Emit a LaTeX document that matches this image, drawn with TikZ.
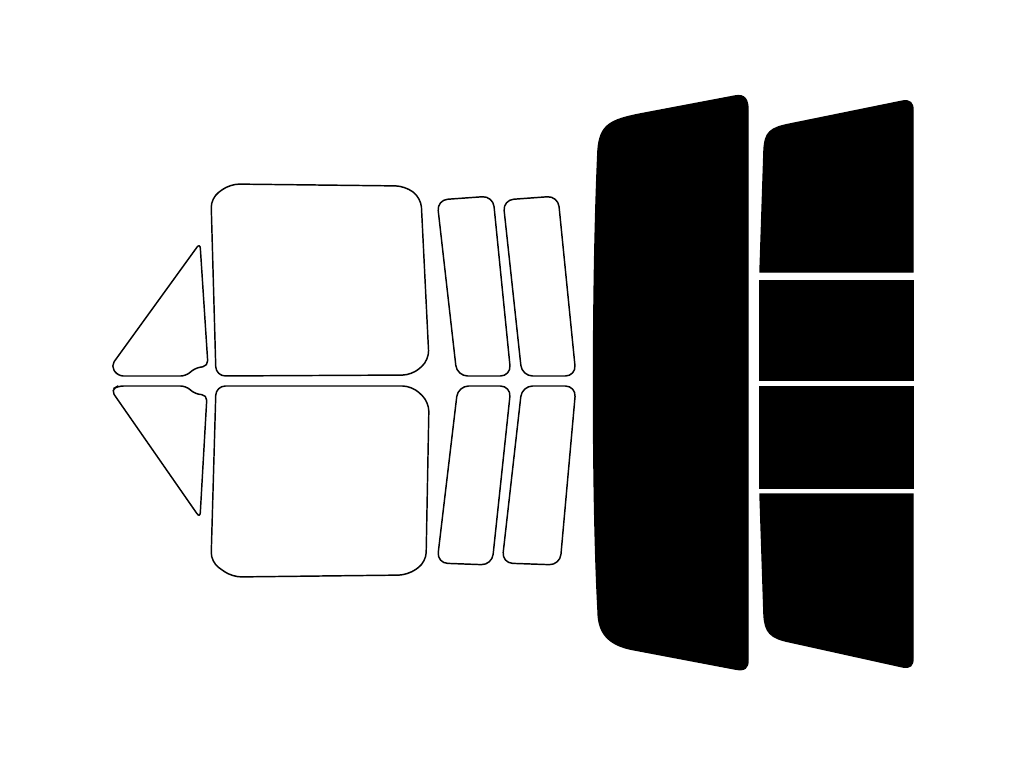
\documentclass[tikz,border=0pt]{standalone}
\usepackage{tikz}

\begin{document}
\begin{tikzpicture}[x=0.75pt, y=-0.75pt,
    glass/.style = {draw, line width=1.1pt, rounded corners=8pt, fill=white},
    tint/.style  = {draw, line width=1.1pt, fill=black}]
\useasboundingbox (0,0) rectangle (1024,768);
%%% quarter glass
\draw[glass, rounded corners=4pt] (200,243) -- (208,366) -- (195,368) -- (186,376) -- (118,376) -- (111,366) -- cycle;
\draw[glass, rounded corners=4pt] (111,390) -- (118,386) -- (186,386) -- (195,394) -- (207,395) -- (200,518) -- cycle;
%%% front door
\draw[glass, rounded corners=7pt] (216,376) -- (211,198) -- (230,184) -- (405,186) -- (421,198) -- (429,360) -- (412,375) -- cycle;
\draw[glass, rounded corners=7pt] (216,386) -- (412,386) -- (429,402) -- (426,562) -- (408,575) -- (232,577) -- (211,562) -- cycle;
%%% rear door
\draw[glass] (437,200) -- (493,196) -- (511,376) -- (457,376) -- cycle;
\draw[glass] (503,200) -- (558,196) -- (576,376) -- (522,376) -- cycle;
\draw[glass] (458,386) -- (511,386) -- (492,565) -- (437,563) -- cycle;
\draw[glass] (522,386) -- (576,386) -- (560,565) -- (502,563) -- cycle;
%%% back glass and rear panels
\draw[tint] (598,150) .. controls (600,125) and (610,120) .. (640,114)
    -- (735,96) .. controls (745,94) and (748,100) .. (748,110)
    -- (748,660) .. controls (748,668) and (745,671) .. (735,669)
    -- (635,650) .. controls (605,645) and (598,630) .. (598,610)
    .. controls (592,500) and (592,280) .. cycle;
\draw[tint] (760,272) -- (764,150) .. controls (765,132) and (770,128) .. (790,124)
    -- (903,101) .. controls (910,100) and (913,103) .. (913,110) -- (913,272) -- cycle;
\draw[tint] (760,281) rectangle (913,380);
\draw[tint] (760,387) rectangle (913,488);
\draw[tint] (760,494) -- (913,494) -- (913,658) .. controls (913,666) and (910,668) .. (903,667)
    -- (790,642) .. controls (770,638) and (765,632) .. (764,615) -- cycle;
\end{tikzpicture}
\end{document}
